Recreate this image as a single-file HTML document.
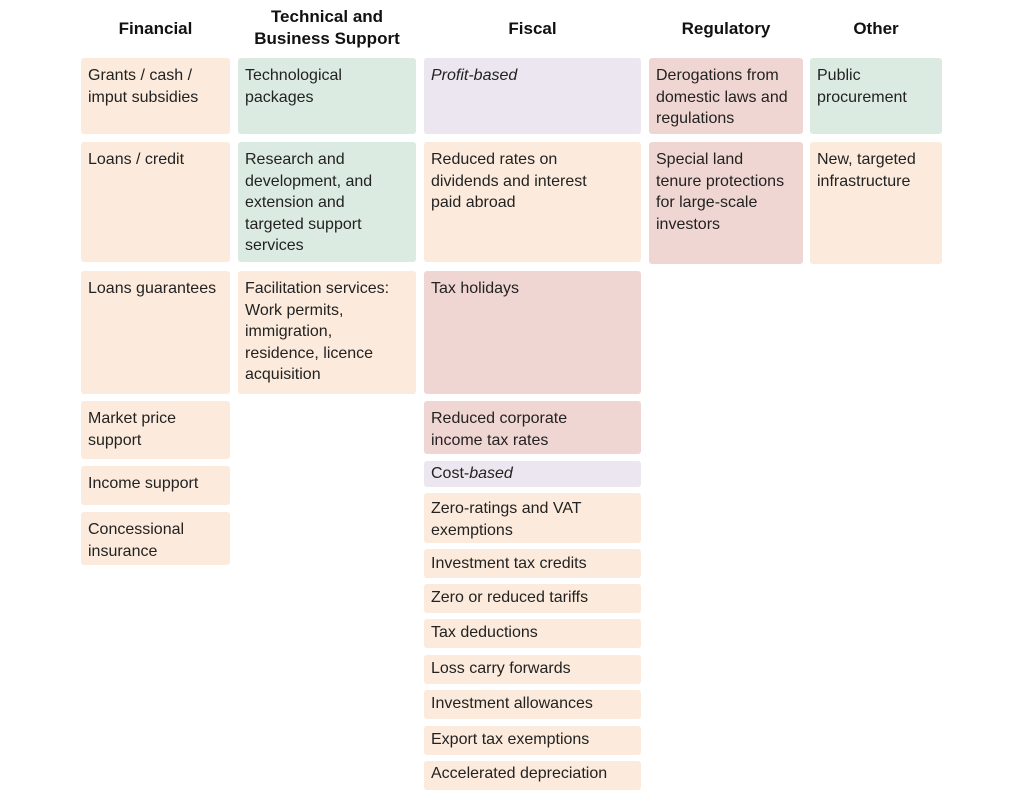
<!DOCTYPE html>
<html><head><style>
body{margin:0;width:1024px;height:799px;background:#fff;font-family:"Liberation Sans",sans-serif;position:relative;overflow:hidden;color:#222}
.b{position:absolute;border-radius:3px;padding:7px 7px;box-sizing:border-box;font-size:16px;line-height:21.5px;white-space:nowrap}
.p{background:#fcebdc}.g{background:#dcebe2}.r{background:#f0d6d2}.l{background:#ebe6ef}
.h{position:absolute;font-weight:bold;font-size:17px;text-align:center;line-height:22px;color:#111}
i{font-style:italic}
</style></head><body>
<div class="h" style="left:81px;width:149px;top:18px">Financial</div>
<div class="h" style="left:238px;width:178px;top:6px">Technical and<br>Business Support</div>
<div class="h" style="left:424px;width:217px;top:18px">Fiscal</div>
<div class="h" style="left:649px;width:154px;top:18px">Regulatory</div>
<div class="h" style="left:810px;width:132px;top:18px">Other</div>

<div class="b p" style="left:81px;width:149px;top:58px;height:76px">Grants / cash /<br>imput subsidies</div>
<div class="b p" style="left:81px;width:149px;top:142px;height:120px">Loans / credit</div>
<div class="b p" style="left:81px;width:149px;top:271px;height:123px">Loans guarantees</div>
<div class="b p" style="left:81px;width:149px;top:401px;height:58px">Market price<br>support</div>
<div class="b p" style="left:81px;width:149px;top:466px;height:39px">Income support</div>
<div class="b p" style="left:81px;width:149px;top:512px;height:53px">Concessional<br>insurance</div>

<div class="b g" style="left:238px;width:178px;top:58px;height:76px">Technological<br>packages</div>
<div class="b g" style="left:238px;width:178px;top:142px;height:120px">Research and<br>development, and<br>extension and<br>targeted support<br>services</div>
<div class="b p" style="left:238px;width:178px;top:271px;height:123px">Facilitation services:<br>Work permits,<br>immigration,<br>residence, licence<br>acquisition</div>

<div class="b l" style="left:424px;width:217px;top:58px;height:76px"><i>Profit-based</i></div>
<div class="b p" style="left:424px;width:217px;top:142px;height:120px">Reduced rates on<br>dividends and interest<br>paid abroad</div>
<div class="b r" style="left:424px;width:217px;top:271px;height:123px">Tax holidays</div>
<div class="b r" style="left:424px;width:217px;top:401px;height:53px">Reduced corporate<br>income tax rates</div>
<div class="b l" style="left:424px;width:217px;top:461px;height:26px;padding-top:2px">Cost-<i>based</i></div>
<div class="b p" style="left:424px;width:217px;top:493px;height:50px;padding-top:5px">Zero-ratings and VAT<br>exemptions</div>
<div class="b p" style="left:424px;width:217px;top:549px;height:29px;padding-top:4px">Investment tax credits</div>
<div class="b p" style="left:424px;width:217px;top:584px;height:29px;padding-top:3px">Zero or reduced tariffs</div>
<div class="b p" style="left:424px;width:217px;top:619px;height:29px;padding-top:3px">Tax deductions</div>
<div class="b p" style="left:424px;width:217px;top:655px;height:29px;padding-top:3px">Loss carry forwards</div>
<div class="b p" style="left:424px;width:217px;top:690px;height:29px;padding-top:3px">Investment allowances</div>
<div class="b p" style="left:424px;width:217px;top:726px;height:29px;padding-top:3px">Export tax exemptions</div>
<div class="b p" style="left:424px;width:217px;top:761px;height:29px;padding-top:2px">Accelerated depreciation</div>

<div class="b r" style="left:649px;width:154px;top:58px;height:76px">Derogations from<br>domestic laws and<br>regulations</div>
<div class="b r" style="left:649px;width:154px;top:142px;height:122px">Special land<br>tenure protections<br>for large-scale<br>investors</div>

<div class="b g" style="left:810px;width:132px;top:58px;height:76px">Public<br>procurement</div>
<div class="b p" style="left:810px;width:132px;top:142px;height:122px">New, targeted<br>infrastructure</div>
</body></html>
